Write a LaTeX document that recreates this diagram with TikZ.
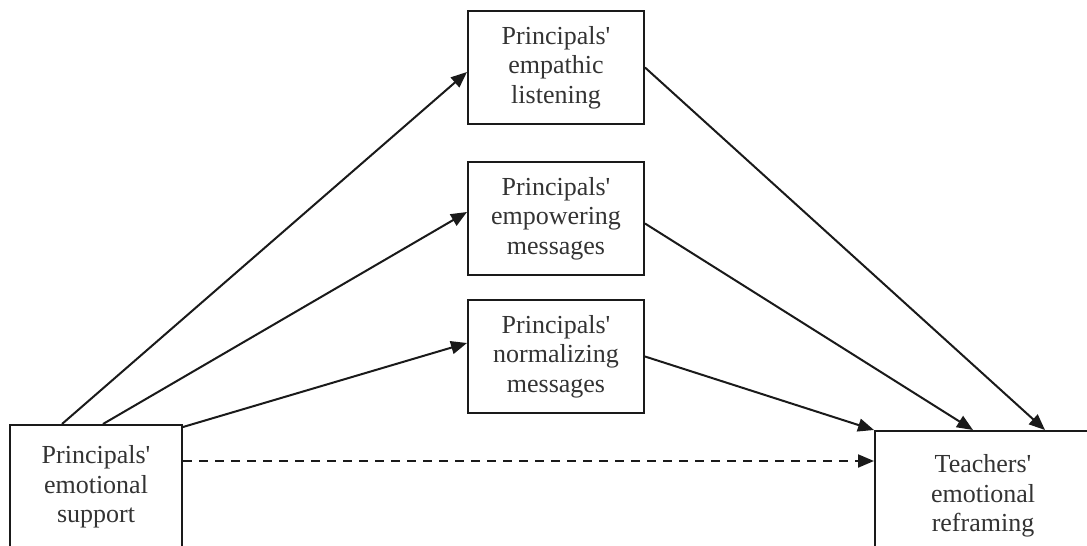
\documentclass[tikz,border=0pt]{standalone}
\usepackage{fontspec}
\setmainfont{Liberation Serif}
\usetikzlibrary{arrows.meta,calc}
\definecolor{txt}{HTML}{333333}
\definecolor{ln}{HTML}{1A1A1A}
\newcommand{\ap}{\textquotesingle}
\begin{document}
\begin{tikzpicture}[x=1pt,y=-1pt,
  box/.style={draw=ln,line width=2pt,rectangle,align=center,text=txt,
    font=\fontsize{26pt}{29.5pt}\selectfont,inner sep=0pt},
  mid/.style={box,minimum width=176pt,minimum height=113pt},
  arr/.style={draw=ln,line width=2pt,-{Triangle[length=16pt,width=13pt]}}]
\useasboundingbox (0,0) rectangle (1087,546);
\clip (0,0) rectangle (1087,546);
\node[mid] (el) at (556,67.5) {Principals\ap\\empathic\\listening};
\node[mid] (em) at (556,218.5) {Principals\ap\\empowering\\messages};
\node[mid] (nm) at (556,356.5) {Principals\ap\\normalizing\\messages};
\node[box,minimum width=172pt,minimum height=124pt] (ps) at (96,487) {Principals\ap\\emotional\\support};
\node[box,minimum width=216pt,minimum height=130pt] (ts) at (983,496) {Teachers\ap\\emotional\\reframing};
\draw[arr] ($(ps.north)+(-34,0)$) -- ($(el.west)+(0,4.5)$);
\draw[arr] ($(ps.north)+(7,0)$) -- ($(em.west)+(0,-6.5)$);
\draw[arr] ($(ps.north east)+(0,3)$) -- ($(nm.west)+(0,-13.5)$);
\draw[arr,dash pattern=on 9pt off 7pt] ($(ps.north east)+(0,37)$) -- ($(ts.north west)+(0,31)$);
\draw[arr] (el.east) -- ($(ts.north)+(62,0)$);
\draw[arr] ($(em.east)+(0,5)$) -- ($(ts.north)+(-10,0)$);
\draw[arr] (nm.east) -- (ts.north west);
\end{tikzpicture}
\end{document}
